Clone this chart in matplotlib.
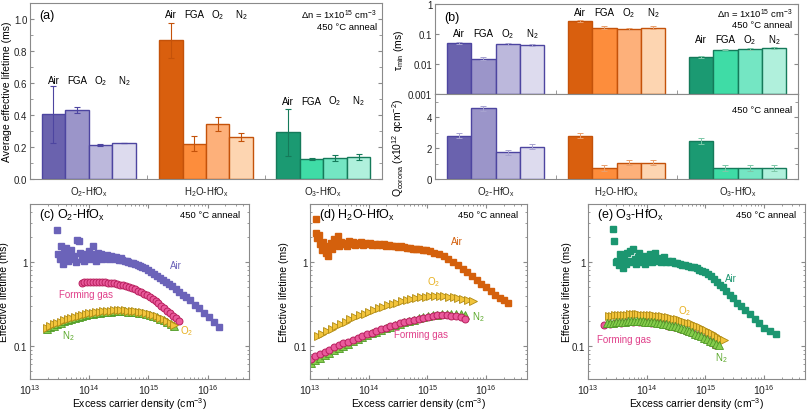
import numpy as np
import matplotlib
matplotlib.use('Agg')
import matplotlib.pyplot as plt
from matplotlib.ticker import MultipleLocator, LogLocator, NullFormatter, FuncFormatter

plt.rcParams['font.family'] = ['Liberation Sans', 'DejaVu Sans']
plt.rcParams['mathtext.default'] = 'regular'
plt.rcParams['axes.edgecolor'] = '#8a8a8a'
plt.rcParams['xtick.color'] = '#8a8a8a'
plt.rcParams['ytick.color'] = '#8a8a8a'
plt.rcParams['xtick.labelcolor'] = '#222222'
plt.rcParams['ytick.labelcolor'] = '#222222'
plt.rcParams['xtick.major.pad'] = 2
plt.rcParams['ytick.major.pad'] = 2
plt.rcParams['font.size'] = 7

anneals = ['Air', 'FGA', 'O$_2$', 'N$_2$']
films = ['O$_2$-HfO$_x$', 'H$_2$O-HfO$_x$', 'O$_3$-HfO$_x$']

# (a) average effective lifetime at dn = 1e15 cm-3 (ms)
tau_avg = [[0.404, 0.431, 0.212, 0.225], [0.866, 0.221, 0.346, 0.263], [0.292, 0.125, 0.133, 0.138]]
tau_avg_err = [[0.177, 0.020, 0.005, 0.003], [0.110, 0.048, 0.044, 0.027], [0.146, 0.004, 0.020, 0.020]]
# (b) tau_min (ms) and corona charge (1e12 q/cm2)
tau_min = [[0.051, 0.0151, 0.046, 0.044], [0.275, 0.163, 0.151, 0.163], [0.0177, 0.0304, 0.032, 0.0347]]
tau_min_err = [[0.005, 0.0015, 0.004, 0.004], [0.025, 0.015, 0.012, 0.015], [0.0015, 0.002, 0.002, 0.002]]
q_corona = [[2.81, 4.58, 1.73, 2.10], [2.81, 0.71, 1.06, 1.06], [2.44, 0.69, 0.69, 0.69]]
q_corona_err = [[0.17, 0.15, 0.17, 0.15], [0.15, 0.17, 0.17, 0.17], [0.20, 0.20, 0.20, 0.20]]

# (c) O2-HfOx lifetime curves: log10(dn / cm-3) and tau (ms)
c_air_logn = [13.45, 13.48, 13.50, 13.52, 13.55, 13.57, 13.60, 13.62, 13.65, 13.67, 13.70, 13.72, 13.75, 13.77,
              13.80, 13.82, 13.85, 13.87, 13.90, 13.92, 13.95, 13.97, 14.00, 14.02, 14.05, 14.07, 14.10, 14.12,
              14.15, 14.17, 14.20, 14.22, 14.25, 14.28, 14.30, 14.33, 14.36, 14.40, 14.43, 14.46, 14.50, 14.53,
              14.56, 14.60, 14.63, 14.66, 14.70, 14.74, 14.78, 14.82, 14.86, 14.90, 14.95, 15.00, 15.05, 15.10,
              15.15, 15.20, 15.25, 15.30, 15.35, 15.40, 15.46, 15.52, 15.58, 15.64, 15.70, 15.78, 15.86, 15.94,
              16.02, 16.11, 16.20]
c_air_tau = [2.45, 1.25, 1.10, 1.55, 0.95, 1.30, 1.50, 1.15, 1.05, 1.25, 1.40, 1.10, 1.20, 1.00,
             1.85, 1.80, 1.30, 1.10, 1.25, 1.05, 1.20, 1.15, 1.35, 1.10, 1.25, 1.55, 1.20, 1.05,
             1.30, 1.15, 1.25, 1.10, 1.20, 1.15, 1.22, 1.10, 1.18, 1.15, 1.10, 1.16, 1.08, 1.12,
             1.06, 1.05, 1.03, 1.00, 0.99, 0.97, 0.95, 0.93, 0.91, 0.88, 0.85, 0.81, 0.77, 0.73,
             0.69, 0.65, 0.61, 0.58, 0.55, 0.52, 0.48, 0.44, 0.41, 0.38, 0.35, 0.31, 0.28, 0.25,
             0.22, 0.195, 0.17]
c_fg_logn = [13.87, 13.92, 13.97, 14.02, 14.07, 14.12, 14.17, 14.22, 14.27, 14.32, 14.37, 14.42, 14.47, 14.52,
             14.57, 14.62, 14.67, 14.72, 14.77, 14.82, 14.87, 14.92, 14.97, 15.02, 15.07, 15.12, 15.17, 15.22,
             15.27, 15.32, 15.37, 15.42, 15.47, 15.52]
c_fg_tau = [0.570, 0.574, 0.577, 0.579, 0.580, 0.580, 0.579, 0.577, 0.574, 0.570, 0.565, 0.558, 0.550, 0.541,
            0.530, 0.518, 0.505, 0.490, 0.474, 0.457, 0.440, 0.421, 0.402, 0.382, 0.362, 0.342, 0.322, 0.302,
            0.282, 0.263, 0.245, 0.228, 0.213, 0.200]
c_o2_logn = [13.28, 13.34, 13.40, 13.46, 13.52, 13.58, 13.64, 13.70, 13.76, 13.82, 13.88, 13.94, 14.00, 14.06,
             14.12, 14.18, 14.24, 14.30, 14.36, 14.42, 14.48, 14.54, 14.60, 14.66, 14.72, 14.78, 14.84, 14.90,
             14.96, 15.02, 15.08, 15.14, 15.20, 15.26, 15.32, 15.38, 15.44]
c_o2_tau = [0.165, 0.172, 0.180, 0.188, 0.195, 0.202, 0.209, 0.216, 0.222, 0.229, 0.234, 0.240, 0.245, 0.249,
            0.253, 0.257, 0.260, 0.262, 0.264, 0.265, 0.266, 0.266, 0.265, 0.264, 0.262, 0.259, 0.255, 0.251,
            0.246, 0.240, 0.233, 0.226, 0.218, 0.209, 0.199, 0.189, 0.178]
c_n2_logn = c_o2_logn
c_n2_tau = [0.160, 0.167, 0.175, 0.183, 0.190, 0.197, 0.204, 0.210, 0.216, 0.222, 0.228, 0.233, 0.238, 0.242,
            0.246, 0.250, 0.253, 0.255, 0.257, 0.258, 0.259, 0.259, 0.258, 0.257, 0.255, 0.252, 0.248, 0.244,
            0.239, 0.233, 0.227, 0.220, 0.212, 0.203, 0.194, 0.184, 0.173]

# (d) H2O-HfOx
d_air_logn = [13.10, 13.10, 13.12, 13.15, 13.17, 13.20, 13.22, 13.25, 13.28, 13.30, 13.33, 13.36, 13.38, 13.41,
              13.44, 13.47, 13.50, 13.53, 13.56, 13.60, 13.63, 13.66, 13.70, 13.73, 13.76, 13.80, 13.83, 13.87,
              13.90, 13.94, 13.98, 14.02, 14.06, 14.10, 14.14, 14.18, 14.22, 14.26, 14.30, 14.35, 14.40, 14.45,
              14.50, 14.55, 14.60, 14.65, 14.70, 14.75, 14.80, 14.86, 14.92, 14.98, 15.05, 15.12, 15.20, 15.28,
              15.36, 15.44, 15.52, 15.60, 15.68, 15.76, 15.84, 15.92, 16.00, 16.08, 16.16, 16.24, 16.30, 16.37]
d_air_tau = [3.30, 2.25, 1.95, 2.10, 1.65, 1.40, 1.75, 1.55, 1.30, 1.20, 1.50, 1.70, 1.45, 1.90,
             1.60, 2.05, 1.55, 1.75, 1.65, 1.70, 1.55, 1.80, 1.65, 1.75, 1.60, 1.70, 1.65, 1.75,
             1.62, 1.72, 1.65, 1.70, 1.62, 1.68, 1.60, 1.66, 1.62, 1.64, 1.58, 1.62, 1.57, 1.58,
             1.54, 1.55, 1.52, 1.50, 1.48, 1.46, 1.44, 1.43, 1.41, 1.40, 1.36, 1.31, 1.25, 1.18,
             1.10, 1.01, 0.93, 0.84, 0.76, 0.68, 0.61, 0.55, 0.50, 0.45, 0.41, 0.37, 0.35, 0.33]
d_o2_logn = [13.13, 13.21, 13.29, 13.37, 13.45, 13.53, 13.61, 13.69, 13.77, 13.85, 13.93, 14.01, 14.09, 14.17,
             14.25, 14.33, 14.41, 14.49, 14.57, 14.65, 14.73, 14.81, 14.89, 14.97, 15.05, 15.13, 15.21, 15.29,
             15.37, 15.45, 15.53, 15.61, 15.69, 15.77]
d_o2_tau = [0.130, 0.139, 0.149, 0.160, 0.171, 0.183, 0.195, 0.207, 0.219, 0.231, 0.243, 0.256, 0.268, 0.280,
            0.292, 0.304, 0.316, 0.328, 0.340, 0.351, 0.361, 0.371, 0.380, 0.387, 0.392, 0.395, 0.395, 0.392,
            0.388, 0.382, 0.375, 0.366, 0.355, 0.340]
d_n2_logn = [13.01, 13.09, 13.17, 13.25, 13.33, 13.41, 13.49, 13.57, 13.65, 13.73, 13.81, 13.89, 13.97, 14.05,
             14.13, 14.21, 14.29, 14.37, 14.45, 14.53, 14.61, 14.69, 14.77, 14.85, 14.93, 15.01, 15.09, 15.17,
             15.25, 15.33, 15.41, 15.49, 15.57, 15.65]
d_n2_tau = [0.062, 0.067, 0.072, 0.077, 0.083, 0.089, 0.094, 0.100, 0.106, 0.113, 0.120, 0.127, 0.134, 0.141,
            0.148, 0.155, 0.162, 0.169, 0.177, 0.184, 0.192, 0.199, 0.206, 0.213, 0.220, 0.226, 0.231, 0.235,
            0.238, 0.240, 0.241, 0.240, 0.238, 0.236]
d_fg_logn = d_n2_logn
d_fg_tau = [0.070, 0.075, 0.080, 0.085, 0.090, 0.096, 0.101, 0.107, 0.112, 0.118, 0.125, 0.131, 0.138, 0.144,
            0.151, 0.157, 0.164, 0.171, 0.178, 0.185, 0.192, 0.199, 0.206, 0.212, 0.218, 0.224, 0.228, 0.231,
            0.232, 0.232, 0.230, 0.226, 0.219, 0.210]

# (e) O3-HfOx
e_air_logn = [13.43, 13.45, 13.48, 13.50, 13.53, 13.55, 13.58, 13.60, 13.62, 13.65, 13.67, 13.70, 13.72, 13.75,
              13.77, 13.80, 13.82, 13.85, 13.87, 13.90, 13.92, 13.95, 13.97, 14.00, 14.03, 14.06, 14.09, 14.12,
              14.15, 14.18, 14.21, 14.24, 14.27, 14.30, 14.33, 14.36, 14.40, 14.44, 14.48, 14.52, 14.56, 14.60,
              14.65, 14.70, 14.75, 14.80, 14.85, 14.90, 14.95, 15.00, 15.05, 15.10, 15.15, 15.20, 15.25, 15.30,
              15.36, 15.42, 15.48, 15.54, 15.60, 15.68, 15.76, 15.84, 15.92, 16.00, 16.10, 16.20]
e_air_tau = [2.50, 1.78, 1.00, 1.05, 0.92, 1.25, 1.05, 0.85, 1.20, 0.95, 1.30, 1.05, 1.38, 1.00,
             1.45, 1.10, 0.95, 1.15, 1.30, 1.00, 1.10, 1.20, 0.95, 1.10, 1.05, 1.25, 1.00, 1.10,
             1.30, 1.05, 1.12, 1.00, 1.08, 1.15, 1.02, 1.05, 1.00, 1.03, 0.98, 0.97, 0.95, 0.93,
             0.92, 0.90, 0.89, 0.88, 0.85, 0.82, 0.79, 0.76, 0.72, 0.68, 0.63, 0.58, 0.54, 0.50,
             0.45, 0.41, 0.37, 0.33, 0.30, 0.27, 0.24, 0.21, 0.19, 0.165, 0.15, 0.137]
e_o2_logn = [13.36, 13.41, 13.46, 13.51, 13.56, 13.61, 13.66, 13.71, 13.76, 13.81, 13.86, 13.91, 13.96, 14.01,
             14.06, 14.11, 14.16, 14.21, 14.26, 14.31, 14.36, 14.41, 14.46, 14.51, 14.56, 14.61, 14.66, 14.71,
             14.76, 14.81, 14.86, 14.91, 14.96, 15.01, 15.06, 15.11, 15.16, 15.21, 15.26, 15.31]
e_o2_tau = [0.228, 0.230, 0.232, 0.234, 0.235, 0.236, 0.237, 0.238, 0.238, 0.238, 0.238, 0.237, 0.236, 0.235,
            0.234, 0.232, 0.230, 0.228, 0.225, 0.222, 0.219, 0.216, 0.212, 0.208, 0.204, 0.200, 0.195, 0.190,
            0.185, 0.179, 0.173, 0.167, 0.161, 0.155, 0.148, 0.141, 0.134, 0.128, 0.122, 0.117]
e_n2_logn = [13.33, 13.38, 13.43, 13.48, 13.53, 13.58, 13.63, 13.68, 13.73, 13.78, 13.83, 13.88, 13.93, 13.98,
             14.03, 14.08, 14.13, 14.18, 14.23, 14.28, 14.33, 14.38, 14.43, 14.48, 14.53, 14.58, 14.63, 14.68,
             14.73, 14.78, 14.83, 14.88, 14.93, 14.98, 15.03, 15.08, 15.13, 15.18, 15.23]
e_n2_tau = [0.185, 0.187, 0.189, 0.191, 0.193, 0.194, 0.195, 0.196, 0.197, 0.197, 0.197, 0.197, 0.196, 0.195,
            0.194, 0.193, 0.191, 0.189, 0.187, 0.184, 0.181, 0.178, 0.175, 0.171, 0.167, 0.163, 0.159, 0.155,
            0.150, 0.145, 0.140, 0.135, 0.130, 0.125, 0.120, 0.115, 0.110, 0.105, 0.101]
e_fg_logn = [13.27, 13.37, 13.47, 13.57, 13.67, 13.77, 13.87, 13.97, 14.07, 14.17, 14.27, 14.37, 14.47, 14.57,
             14.67, 14.77, 14.87, 14.97, 15.07, 15.17]
e_fg_tau = [0.178, 0.183, 0.187, 0.190, 0.192, 0.193, 0.193, 0.191, 0.189, 0.186, 0.181, 0.175, 0.168, 0.160,
            0.152, 0.143, 0.133, 0.123, 0.113, 0.103]

bar_colors = [['#6a62ae', '#9b95c9', '#bcb8dc', '#dddbee'],
              ['#d95f0e', '#fd8d3c', '#fdb07a', '#fdd5b1'],
              ['#1b9a72', '#3fdca6', '#74e6c3', '#b0f0dc']]
edge_colors = ['#4d45a0', '#c4520a', '#157a5a']
err_light = ['#a7a3d0', '#e9a06e', '#7cc8a8']
air_colors = ['#6b63b9', '#d4600c', '#1b9670']

W, H = 808, 414
fig = plt.figure(figsize=(W / 100, H / 100), dpi=100)

def box(l, t, r, b):
    return [l / W, 1 - b / H, (r - l) / W, (b - t) / H]

xpos = [[0, 1, 2, 3], [5, 6, 7, 8], [10, 11, 12, 13]]

def style_bar_x(ax, labels=True):
    ax.set_xlim(-1, 14)
    ax.set_xticks([1.5, 6.5, 11.5])
    ax.set_xticks([4, 9], minor=True)
    ax.tick_params(axis='x', which='major', length=0, pad=4, labelsize=7)
    ax.tick_params(axis='x', which='minor', direction='in', length=3)
    ax.set_xticklabels(films if labels else [])

# ---- (a)
ax = fig.add_axes(box(30, 4, 382, 180))
label_y_a = [0.62, 1.03, 0.49]
for g in range(3):
    for i in range(4):
        ax.bar(xpos[g][i], tau_avg[g][i], width=1, color=bar_colors[g][i],
               edgecolor=edge_colors[g], linewidth=1)
        ax.errorbar(xpos[g][i], tau_avg[g][i], yerr=tau_avg_err[g][i], color=edge_colors[g],
                    capsize=2, elinewidth=0.8, capthick=0.8)
        ax.text(xpos[g][i], label_y_a[g], anneals[i], ha='center', va='center', fontsize=7)
ax.set_ylim(0, 1.1)
ax.yaxis.set_major_locator(MultipleLocator(0.2))
ax.yaxis.set_minor_locator(MultipleLocator(0.1))
ax.yaxis.set_major_formatter(FuncFormatter(lambda v, p: '%.1f' % v))
ax.tick_params(axis='y', which='both', direction='in', right=True, labelsize=7)
ax.tick_params(axis='y', which='major', length=3)
ax.tick_params(axis='y', which='minor', length=2)
style_bar_x(ax)
ax.set_ylabel('Average effective lifetime (ms)', fontsize=7.5)
ax.yaxis.set_label_coords(-0.05, 0.5)
ax.text(0.025, 0.93, '(a)', transform=ax.transAxes, fontsize=9, va='center')
ax.text(0.985, 0.935, '$\\Delta$n = 1x10$^{15}$ cm$^{-3}$', transform=ax.transAxes, fontsize=6.8,
        ha='right', va='center')
ax.text(0.985, 0.865, '450 °C anneal', transform=ax.transAxes, fontsize=6.8, ha='right', va='center')

# ---- (b) top
axt = fig.add_axes(box(435, 5, 798, 95))
label_y_b = [0.11, 0.55, 0.068]
for g in range(3):
    for i in range(4):
        axt.bar(xpos[g][i], tau_min[g][i] - 1e-3, bottom=1e-3, width=1, color=bar_colors[g][i],
                edgecolor=edge_colors[g], linewidth=1)
        axt.errorbar(xpos[g][i], tau_min[g][i], yerr=tau_min_err[g][i], color=err_light[g],
                     capsize=2, elinewidth=0.7, capthick=0.7)
        axt.text(xpos[g][i], label_y_b[g], anneals[i], ha='center', va='center', fontsize=7)
axt.set_yscale('log')
axt.set_ylim(1e-3, 1)
axt.set_yticks([1e-3, 1e-2, 1e-1, 1])
axt.set_yticklabels(['0.001', '0.01', '0.1', '1'])
axt.yaxis.set_minor_locator(LogLocator(subs=[]))
axt.tick_params(axis='y', which='both', direction='in', right=True, labelsize=7, length=3)
style_bar_x(axt, labels=False)
axt.set_ylabel('$\\tau_{min}$ (ms)', fontsize=7.5)
axt.yaxis.set_label_coords(-0.08, 0.5)
axt.text(0.025, 0.85, '(b)', transform=axt.transAxes, fontsize=9, va='center')
axt.text(0.985, 0.9, '$\\Delta$n = 1x10$^{15}$ cm$^{-3}$', transform=axt.transAxes, fontsize=6.8,
         ha='right', va='center')
axt.text(0.985, 0.77, '450 °C anneal', transform=axt.transAxes, fontsize=6.8, ha='right', va='center')

# ---- (b) bottom
axb = fig.add_axes(box(435, 95, 798, 180))
for g in range(3):
    for i in range(4):
        axb.bar(xpos[g][i], q_corona[g][i], width=1, color=bar_colors[g][i],
                edgecolor=edge_colors[g], linewidth=1)
        axb.errorbar(xpos[g][i], q_corona[g][i], yerr=q_corona_err[g][i], color=err_light[g],
                     capsize=2, elinewidth=0.7, capthick=0.7)
axb.set_ylim(0, 5.5)
axb.yaxis.set_major_locator(MultipleLocator(2))
axb.yaxis.set_minor_locator(MultipleLocator(1))
axb.tick_params(axis='y', which='both', direction='in', right=True, labelsize=7)
axb.tick_params(axis='y', which='major', length=3)
axb.tick_params(axis='y', which='minor', length=2)
style_bar_x(axb)
axb.set_ylabel('Q$_{corona}$ (x10$^{12}$ qcm$^{-2}$)', fontsize=7.5)
axb.yaxis.set_label_coords(-0.08, 0.38)
axb.text(0.985, 0.82, '450 °C anneal', transform=axb.transAxes, fontsize=6.8, ha='right', va='center')

# ---- lifetime curves
fg_style = dict(marker='o', ms=5, mfc='#ea5a9c', mec='#b8205e', mew=0.7, ls='none')
o2_style = dict(marker='>', ms=5.5, mfc='#f2c43c', mec='#b08a12', mew=0.6, ls='none')
n2_style = dict(marker='^', ms=5.5, mfc='#86cc4c', mec='#4f9a26', mew=0.6, ls='none')

def curve_axes(l, r, title, ylab_x):
    ax = fig.add_axes(box(l, 205, r, 380))
    ax.set_xscale('log')
    ax.set_yscale('log')
    ax.set_xlim(1e13, 5e16)
    ax.set_ylim(0.04, 5)
    ax.set_xticks([1e13, 1e14, 1e15, 1e16])
    ax.xaxis.set_minor_locator(LogLocator(subs=np.arange(2, 10)))
    ax.xaxis.set_minor_formatter(NullFormatter())
    ax.set_yticks([0.1, 1])
    ax.set_yticklabels(['0.1', '1'])
    ax.yaxis.set_minor_locator(LogLocator(subs=np.arange(2, 10)))
    ax.yaxis.set_minor_formatter(NullFormatter())
    ax.tick_params(which='both', direction='in', top=True, right=True, labelsize=7)
    ax.tick_params(axis='x', labelsize=7.5)
    ax.tick_params(which='major', length=3)
    ax.tick_params(which='minor', length=1.5)
    ax.set_xlabel('Excess carrier density (cm$^{-3}$)', fontsize=7.5)
    ax.xaxis.set_label_coords(0.5, -0.095)
    ax.set_ylabel('Effective lifetime (ms)', fontsize=7.5)
    ax.yaxis.set_label_coords(ylab_x, 0.5)
    ax.text(0.04, 0.94, title, transform=ax.transAxes, fontsize=9, va='center')
    ax.text(0.96, 0.94, '450 °C anneal', transform=ax.transAxes, fontsize=6.8, ha='right', va='center')
    return ax

def p10(v):
    return 10 ** np.array(v)

# (c)
ax = curve_axes(30, 249, '(c) O$_2$-HfO$_x$', -0.095)
ax.plot(p10(c_air_logn), c_air_tau, marker='s', ms=3.8, mfc=air_colors[0], mec=air_colors[0], ls='none')
ax.plot(p10(c_fg_logn), c_fg_tau, **fg_style)
ax.plot(p10(c_n2_logn), c_n2_tau, **n2_style)
ax.plot(p10(c_o2_logn), c_o2_tau, **o2_style)
ax.text(10 ** 15.47, 0.93, 'Air', color=air_colors[0], fontsize=7, ha='center', va='center')
ax.text(10 ** 13.94, 0.42, 'Forming gas', color='#e0408a', fontsize=7, ha='center', va='center')
ax.text(10 ** 15.64, 0.155, 'O$_2$', color='#e8b020', fontsize=7, ha='center', va='center')
ax.text(10 ** 13.65, 0.135, 'N$_2$', color='#5aa82a', fontsize=7, ha='center', va='center')

# (d)
ax = curve_axes(310, 527, '(d) H$_2$O-HfO$_x$', -0.095)
ax.plot(p10(d_air_logn), d_air_tau, marker='s', ms=3.8, mfc=air_colors[1], mec=air_colors[1], ls='none')
ax.plot(p10(d_o2_logn), d_o2_tau, **o2_style)
ax.plot(p10(d_n2_logn), d_n2_tau, **n2_style)
ax.plot(p10(d_fg_logn), d_fg_tau, **fg_style)
ax.text(10 ** 15.5, 1.8, 'Air', color=air_colors[1], fontsize=7, ha='center', va='center')
ax.text(10 ** 15.1, 0.60, 'O$_2$', color='#e8b020', fontsize=7, ha='center', va='center')
ax.text(10 ** 15.87, 0.23, 'N$_2$', color='#5aa82a', fontsize=7, ha='center', va='center')
ax.text(10 ** 14.9, 0.14, 'Forming gas', color='#e0408a', fontsize=7, ha='center', va='center')

# (e)
ax = curve_axes(588, 805, '(e) O$_3$-HfO$_x$', -0.075)
ax.plot(p10(e_air_logn), e_air_tau, marker='s', ms=3.8, mfc=air_colors[2], mec=air_colors[2], ls='none')
ax.plot(p10(e_fg_logn), e_fg_tau, **fg_style)
ax.plot(p10(e_o2_logn), e_o2_tau, **o2_style)
ax.plot(p10(e_n2_logn), e_n2_tau, **n2_style)
ax.text(10 ** 15.44, 0.65, 'Air', color=air_colors[2], fontsize=7, ha='center', va='center')
ax.text(10 ** 14.65, 0.27, 'O$_2$', color='#e8b020', fontsize=7, ha='center', va='center')
ax.text(10 ** 15.28, 0.074, 'N$_2$', color='#5aa82a', fontsize=7, ha='center', va='center')
ax.text(10 ** 13.62, 0.122, 'Forming gas', color='#e0408a', fontsize=7, ha='center', va='center')

fig.savefig('out.png', dpi=100)
